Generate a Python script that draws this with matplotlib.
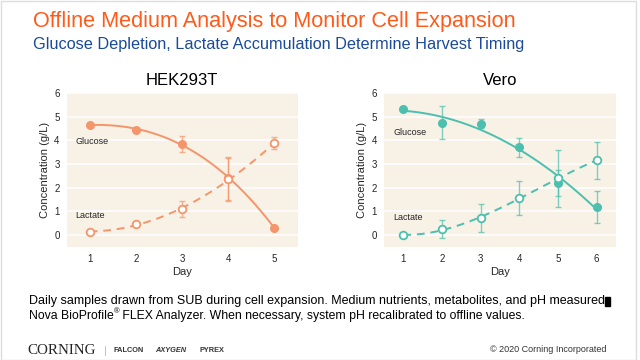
import numpy as np
import matplotlib
matplotlib.use("Agg")
from matplotlib import pyplot as plt
from matplotlib.patches import Rectangle

# HEK293T data
hek_days = [1, 2, 3, 4, 5]
hek_glucose = [4.65, 4.45, 3.85, 2.4, 0.3]
hek_glucose_err = [0.0, 0.0, 0.35, 0.9, 0.0]
hek_lactate = [0.15, 0.45, 1.1, 2.35, 3.88]
hek_lactate_err = [0.0, 0.0, 0.32, 0.9, 0.25]

# Vero data
vero_days = [1, 2, 3, 4, 5, 6]
vero_glucose = [5.3, 4.75, 4.7, 3.7, 2.2, 1.2]
vero_glucose_err = [0.0, 0.7, 0.18, 0.4, 0.55, 0.67]
vero_lactate = [0.0, 0.25, 0.72, 1.55, 2.4, 3.15]
vero_lactate_err = [0.0, 0.38, 0.58, 0.72, 1.2, 0.78]

y_ticks = [0, 1, 2, 3, 4, 5, 6]

ORANGE = "#F5956B"
TEAL = "#4CBFAE"
BG = "#F8F1E6"
TXT = "#262626"


def panel(ax, title, days, glu, glu_err, lac, lac_err, color, xlim, lab_pos, gdeg):
    ax.set_facecolor(BG)
    for s in ax.spines.values():
        s.set_visible(False)
    ax.set_xlim(*xlim)
    ax.set_ylim(-0.5, 6.0)
    ax.set_yticks(y_ticks)
    ax.set_xticks(days)
    ax.tick_params(length=0, labelsize=7, colors=TXT, pad=5)
    ax.grid(axis="y", color="white", lw=1.1)
    ax.set_axisbelow(True)

    # trend lines
    xs = np.linspace(days[0], days[-1], 100)
    gfit = np.polyfit(days, glu, gdeg)
    lfit = np.polyfit(days, lac, 3)
    ax.plot(xs, np.polyval(gfit, xs), color=color, lw=1.4)
    ax.plot(xs, np.polyval(lfit, xs), color=color, lw=1.4, ls=(0, (4, 3)))

    ax.errorbar(days, glu, yerr=glu_err, fmt="none", ecolor=color, alpha=0.7,
                elinewidth=1, capsize=2)
    ax.errorbar(days, lac, yerr=lac_err, fmt="none", ecolor=color, alpha=0.7,
                elinewidth=1, capsize=2)
    ax.plot(days, glu, "o", color=color, ms=5.5)
    ax.plot(days, lac, "o", mfc="white", mec=color, mew=1.3, ms=5.5)

    ax.text(lab_pos[0], lab_pos[1], "Glucose", fontsize=6.5, color=TXT, va="center")
    ax.text(lab_pos[0], lab_pos[2], "Lactate", fontsize=6.5, color=TXT, va="center")

    ax.set_title(title, fontsize=12, color="black", pad=6)
    ax.set_xlabel("Day", fontsize=8, color=TXT, labelpad=2)
    ax.set_ylabel("Concentration (g/L)", fontsize=8, color=TXT, labelpad=3)


plt.rcParams["font.family"] = ["Liberation Sans", "DejaVu Sans"]
fig = plt.figure(figsize=(6.4, 3.6), dpi=100)

ax1 = fig.add_axes([0.104, 0.314, 0.361, 0.428])
panel(ax1, "HEK293T", hek_days, hek_glucose, hek_glucose_err, hek_lactate,
      hek_lactate_err, ORANGE, (0.5, 5.5), (0.69, 3.93, 0.84), 3)

ax2 = fig.add_axes([0.6, 0.314, 0.3625, 0.428])
panel(ax2, "Vero", vero_days, vero_glucose, vero_glucose_err, vero_lactate,
      vero_lactate_err, TEAL, (0.5, 6.5), (0.75, 4.31, 0.73), 2)

# headings
fig.text(33 / 640, 1 - 22 / 360, "Offline Medium Analysis to Monitor Cell Expansion",
         fontsize=15.6, color="#FF5A1A", va="center")
fig.text(33 / 640, 1 - 44 / 360,
         "Glucose Depletion, Lactate Accumulation Determine Harvest Timing",
         fontsize=11.7, color="#1A4A99", va="center")

# notes
renderer = fig.canvas.get_renderer()
t1 = fig.text(29 / 640, 1 - 301 / 360,
              "Daily samples drawn from SUB during cell expansion. Medium nutrients, metabolites, and pH measured",
              fontsize=9.0, color="black", va="center")
bb = t1.get_window_extent(renderer)
fig.patches.append(Rectangle((bb.x1 / 640, bb.y0 / 360 + 0.004), 5 / 640, 9 / 360,
                             transform=fig.transFigure, color="black"))

y2 = 1 - 316 / 360
ta = fig.text(29 / 640, y2, "Nova BioProfile", fontsize=8.8, color="black", va="center")
bb = ta.get_window_extent(renderer)
tr = fig.text(bb.x1 / 640, y2 + 4 / 360, "\u00ae", fontsize=5.5, color="black", va="center")
bb = tr.get_window_extent(renderer)
fig.text(bb.x1 / 640, y2,
         " FLEX Analyzer. When necessary, system pH recalibrated to offline values.",
         fontsize=8.8, color="black", va="center")

# footer
fy = 1 - 351 / 360
fig.text(27 / 640, fy, "CORNING", family="Liberation Serif", fontsize=10.8,
         color="#222222", va="center")
fig.text(104 / 640, fy, "|", fontsize=8, color="#BBBBBB", va="center")
fig.text(114 / 640, fy, "FALCON", fontsize=5.3, weight="bold",
         color="#333333", va="center")
fig.text(155 / 640, fy, "AXYGEN", fontsize=5.3, weight="bold", style="italic",
         color="#333333", va="center")
fig.text(200 / 640, fy, "PYREX", fontsize=5.3, weight="bold",
         color="#333333", va="center")
fig.text(607 / 640, 1 - 349 / 360, "\u00a9 2020 Corning Incorporated", fontsize=6.5,
         color="#333333", va="center", ha="right")

# slide frame
fig.patches.append(Rectangle((0.001, 0.001), 0.993, 0.997, transform=fig.transFigure,
                             fill=False, ec="#DDDDDD", lw=1))

fig.savefig("out.png", dpi=100)
